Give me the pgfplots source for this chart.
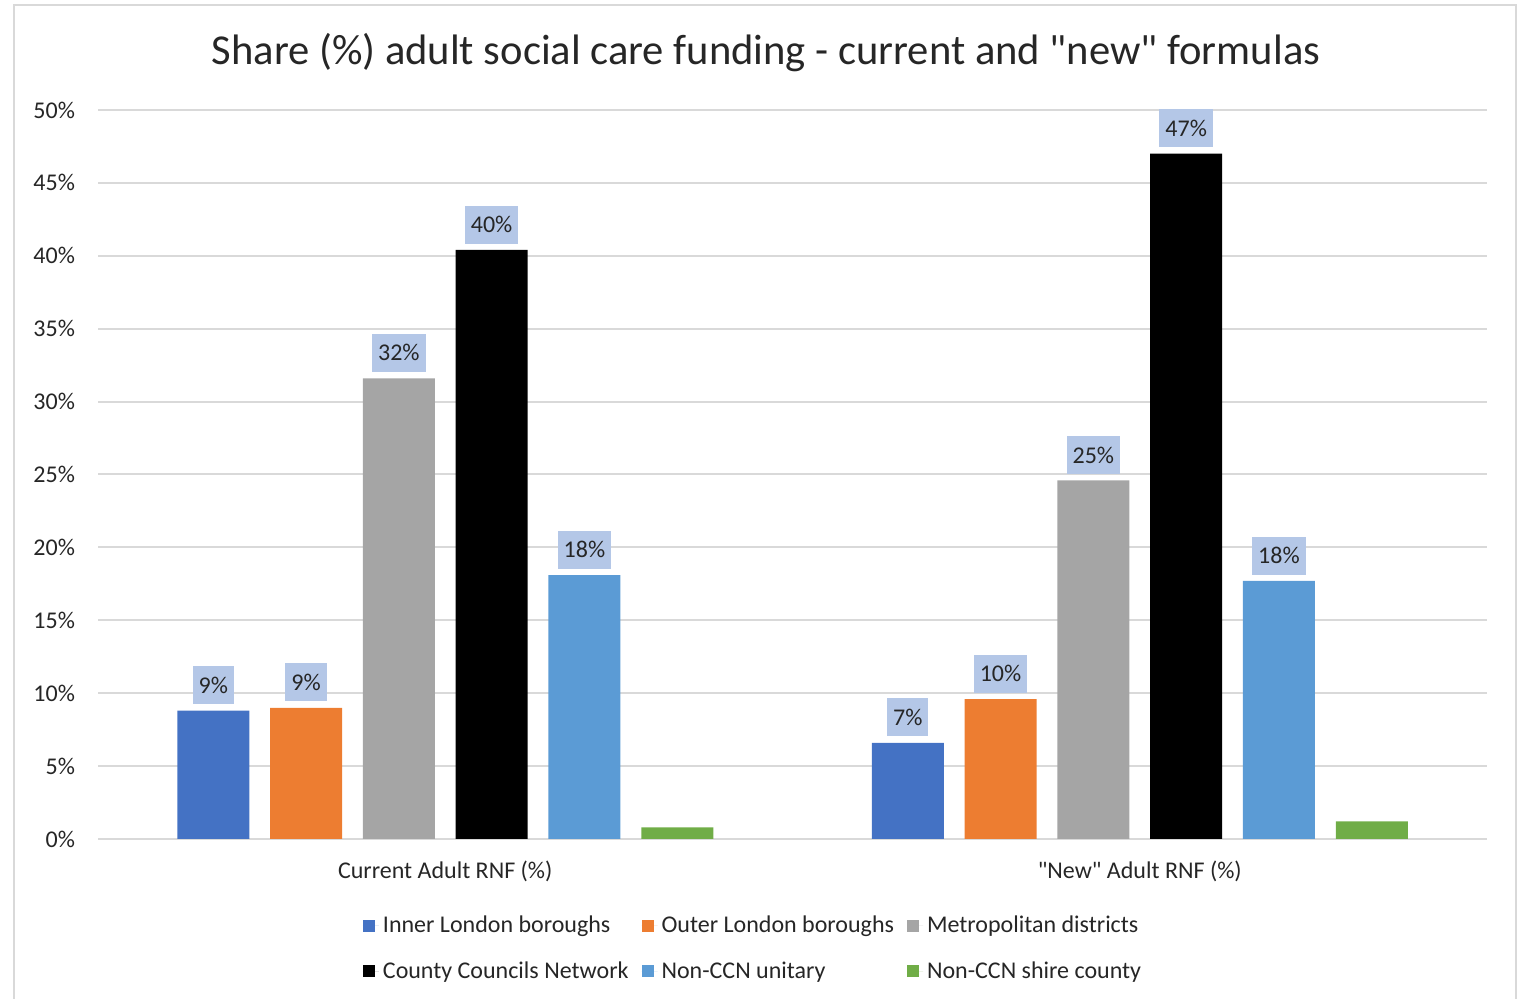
\documentclass[border=0pt]{standalone}
\usepackage{pgfplots}
\pgfplotsset{compat=1.18}
\usepackage{fontspec}
\setmainfont{Carlito}[Ligatures=TeXOff]
\definecolor{cInner}{HTML}{4472C4}
\definecolor{cOuter}{HTML}{ED7D31}
\definecolor{cMetro}{HTML}{A5A5A5}
\definecolor{cCCN}{HTML}{000000}
\definecolor{cUnit}{HTML}{5B9BD5}
\definecolor{cShire}{HTML}{70AD47}
\definecolor{lblue}{HTML}{B4C7E7}
\definecolor{gridgray}{HTML}{D9D9D9}
\definecolor{txt}{HTML}{262626}
\begin{document}
\begin{tikzpicture}[x=1pt,y=1pt]
\path[use as bounding box] (0,0) rectangle (762,499.5);
\draw[color=gridgray, line width=1.2pt] (7,-10) rectangle (758,497);
\node[font=\fontsize{21.3}{25}\selectfont, text=txt] at (383,473) {Share (\%) adult social care funding - current and "new" formulas};
\begin{axis}[
  at={(49pt,80pt)}, anchor=south west,
  scale only axis, width=694.5pt, height=364.5pt,
  ybar=10.4pt, bar width=36pt,
  xmin=-0.5, xmax=1.5, ymin=0, ymax=50,
  xtick={0,1},
  xticklabels={Current Adult RNF (\%), "New" Adult RNF (\%)},
  ytick={0,5,...,50},
  yticklabel={\pgfmathprintnumber{\tick}\%},
  /pgf/number format/assume math mode=true,
  tick label style={font=\fontsize{12}{14}\selectfont, text=txt},
  xticklabel style={yshift=-3pt},
  yticklabel style={xshift=-8pt},
  axis line style={draw=none},
  major tick style={draw=none},
  ymajorgrids, grid style={color=gridgray, line width=1pt},
  lbl/.style={nodes near coords={\pgfmathprintnumber[fixed,precision=0]{\pgfplotspointmeta}\%},
    every node near coord/.append style={fill=lblue, inner sep=3pt, minimum height=19pt, text=txt,
      font=\fontsize{12}{14}\selectfont, yshift=3pt, /pgf/number format/assume math mode=true}},
  legend columns=3,
  legend cell align=left,
  legend style={at={(0.4723,-0.094)}, anchor=north, draw=none,
    font=\fontsize{12}{14}\selectfont, text=txt, row sep=9pt,
    /tikz/every even column/.append style={column sep=4.5pt}},
  legend image code/.code={\fill[#1] (0pt,-3pt) rectangle (6pt,3pt); \path (0pt,0pt) -- (8pt,0pt);},
]
\addplot[fill=cInner, draw=none, lbl] coordinates {(0,8.8) (1,6.6)};
\addplot[fill=cOuter, draw=none, lbl] coordinates {(0,9.0) (1,9.6)};
\addplot[fill=cMetro, draw=none, lbl] coordinates {(0,31.6) (1,24.6)};
\addplot[fill=cCCN, draw=none, lbl] coordinates {(0,40.4) (1,47.0)};
\addplot[fill=cUnit, draw=none, lbl] coordinates {(0,18.1) (1,17.7)};
\addplot[fill=cShire, draw=none] coordinates {(0,0.8) (1,1.2)};
\legend{Inner London boroughs, Outer London boroughs, Metropolitan districts, County Councils Network, Non-CCN unitary, Non-CCN shire county}
\end{axis}
\end{tikzpicture}
\end{document}
